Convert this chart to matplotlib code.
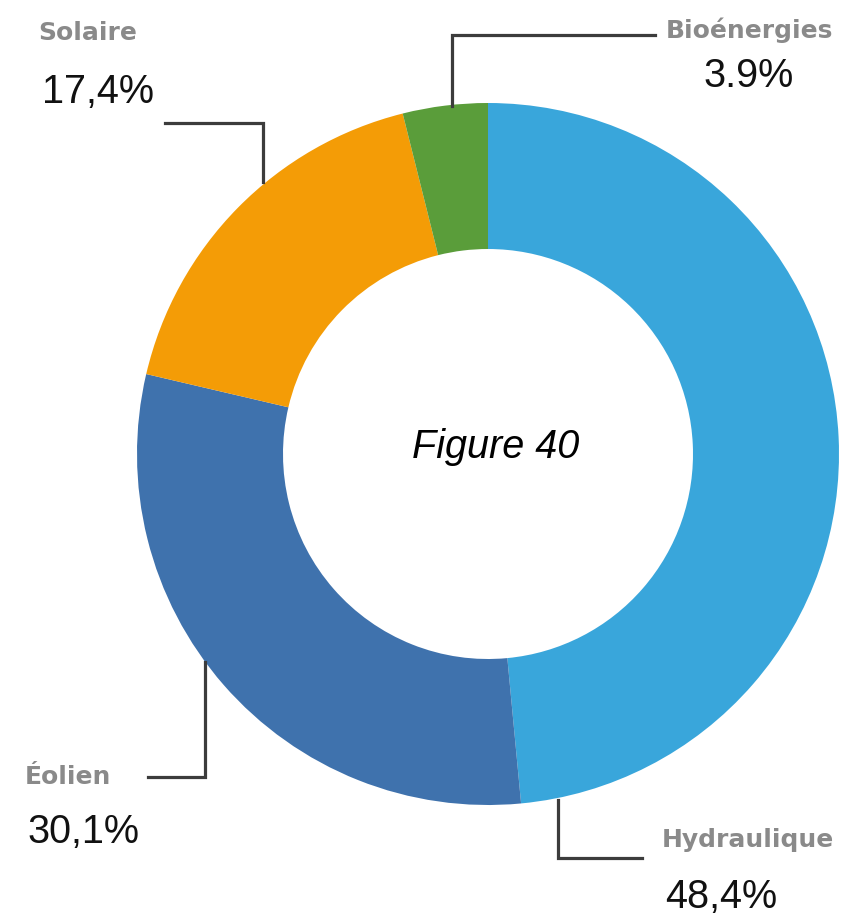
import matplotlib
matplotlib.use("Agg")
import matplotlib.pyplot as plt

# donut data (clockwise from 12 o'clock)
LABELS = ["Hydraulique", "Éolien", "Solaire", "Bioénergies"]
VALUES = [48.4, 30.1, 17.4, 3.9]
PCT_TEXT = ["48,4%", "30,1%", "17,4%", "3.9%"]
COLORS = ["#39a6db", "#3f72ad", "#f49c06", "#5a9d3a"]

W, H = 863, 917
CX, CY = 488, H - 454
R_OUT = 351
RING = 146

fig = plt.figure(figsize=(W / 100, H / 100), dpi=100)
ax = fig.add_axes([0, 0, 1, 1])

ax.pie(VALUES, colors=COLORS, startangle=90, counterclock=False,
       radius=R_OUT, center=(CX, CY),
       wedgeprops=dict(width=RING, edgecolor="none"))
ax.set_xlim(0, W)
ax.set_ylim(0, H)
ax.set_aspect("equal")
ax.axis("off")

ax.text(496, H - 447, "Figure 40", fontsize=28.5, style="italic",
        family="Liberation Sans", ha="center", va="center", color="black")

# label positions (x, y of name / percent), in pixels from top
name_pos = {"Solaire": (88, 33), "Bioénergies": (749, 30),
            "Éolien": (68, 777), "Hydraulique": (748, 840)}
pct_pos = {"Solaire": (98, 92), "Bioénergies": (749, 76),
           "Éolien": (83, 832), "Hydraulique": (721, 897)}
# leader lines: list of (x, y) points from top
leaders = {"Solaire": [(165, 123), (263, 123), (263, 182)],
           "Bioénergies": [(655, 35), (452, 35), (452, 106)],
           "Éolien": [(148, 777), (205, 777), (205, 662)],
           "Hydraulique": [(558, 800), (558, 858), (642, 858)]}

for lab, pct in zip(LABELS, PCT_TEXT):
    nx, ny = name_pos[lab]
    ax.text(nx, H - ny, lab, fontsize=18, fontweight="bold",
            family="DejaVu Sans", color="#8a8a8a",
            ha="center", va="center")
    px, py = pct_pos[lab]
    ax.text(px, H - py, pct, fontsize=28.5, family="Liberation Sans",
            color="#111111", ha="center", va="center")
    pts = leaders[lab]
    ax.plot([p[0] for p in pts], [H - p[1] for p in pts],
            color="#3c3c3c", lw=2.3, solid_joinstyle="miter")

fig.savefig("out.png", dpi=100)
